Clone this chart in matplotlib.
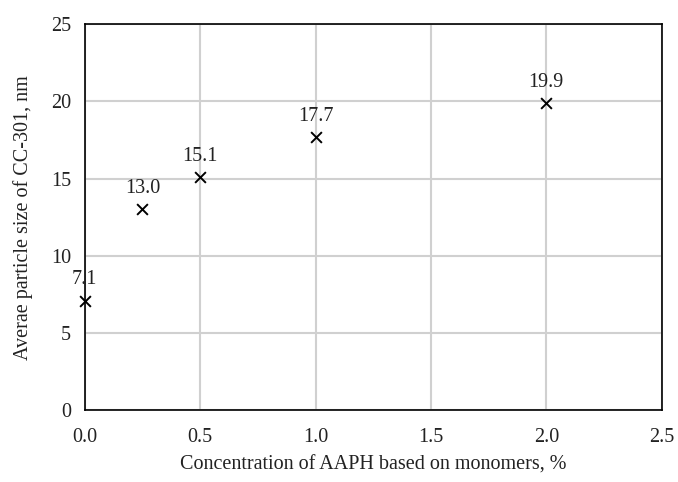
import matplotlib
matplotlib.use("Agg")
import matplotlib.pyplot as plt

plt.rcParams['font.family'] = ['Liberation Serif', 'DejaVu Serif']

conc = [0.0, 0.25, 0.5, 1.0, 2.0]
size = [7.1, 13.0, 15.1, 17.7, 19.9]
labels = ['7.1', '13.0', '15.1', '17.7', '19.9']

fig, ax = plt.subplots(figsize=(6.78, 4.82), dpi=100)
fig.subplots_adjust(left=0.125, right=0.976, top=0.950, bottom=0.149)

ax.scatter(conc, size, marker='x', s=60, color='black', linewidths=1.4, zorder=3, clip_on=False)
for x, y, t in zip(conc, size, labels):
    ax.annotate(t, (x, y), xytext=(0, 8), textcoords='offset points',
                ha='center', va='bottom', fontsize=14.5, color='#222222')

ax.set_xlim(0, 2.5)
ax.set_ylim(0, 25)
ax.set_xticks([0, 0.5, 1.0, 1.5, 2.0, 2.5])
ax.set_xticklabels(['0.0', '0.5', '1.0', '1.5', '2.0', '2.5'])
ax.set_yticks([0, 5, 10, 15, 20, 25])
ax.grid(True, color='#d0d0d0', linewidth=1.5)
ax.set_axisbelow(True)
ax.tick_params(axis='x', length=0, labelsize=14.5, pad=13, colors='#222222')
ax.tick_params(axis='y', length=0, labelsize=14.5, pad=10, colors='#222222')
for s in ax.spines.values():
    s.set_color('black')
    s.set_linewidth(1.2)

ax.set_xlabel('Concentration of AAPH based on monomers, %', fontsize=14.5, labelpad=6, color='#222222')
ax.set_ylabel('Averae particle size of CC-301, nm', fontsize=14.5, labelpad=13, color='#222222')

fig.savefig('out.png', dpi=100)
